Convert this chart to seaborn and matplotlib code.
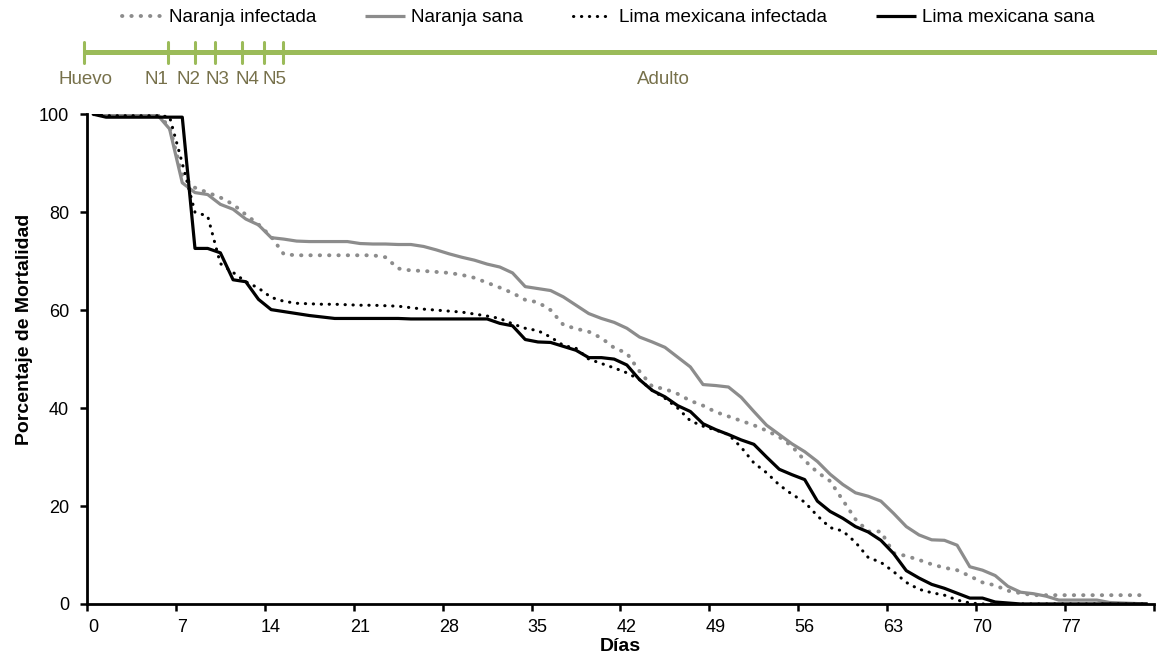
import numpy as np
import pandas as pd
import matplotlib
matplotlib.use('Agg')
import matplotlib.pyplot as plt
import matplotlib.transforms as mtransforms
import seaborn as sns

# survival curves, one value per day (day 0 .. 83)
dias = np.arange(84)

naranja_infectada = [100, 100, 100, 100, 100, 100, 97.5, 87.5, 85.0, 84.0,
                     83.0, 81.6, 79.5, 77.5, 75.0, 71.4, 71.2, 71.2, 71.2, 71.2,
                     71.2, 71.2, 71.2, 70.8, 68.5, 68.1, 68.0, 67.8, 67.6, 67.2,
                     66.6, 65.6, 64.6, 63.5, 62.1, 61.6, 60.0, 57.0, 56.2, 55.6,
                     54.3, 52.3, 51.2, 47.5, 44.4, 43.9, 42.9, 41.5, 40.5, 39.2,
                     38.3, 37.4, 36.5, 35.4, 34.1, 32.2, 29.3, 26.9, 25.1, 21.2,
                     17.3, 14.8, 14.8, 10.4, 9.8, 9.0, 8.1, 7.4, 6.9, 5.7,
                     4.4, 3.8, 2.7, 2.2, 1.8, 1.8, 1.8, 1.8, 1.8, 1.8,
                     1.8, 1.8, 1.8, 1.8]

naranja_sana = [100, 100, 100, 100, 100, 100, 97.0, 86.0, 84.0, 83.6,
                81.6, 80.6, 78.6, 77.4, 74.8, 74.5, 74.1, 74.0, 74.0, 74.0,
                74.0, 73.6, 73.5, 73.5, 73.4, 73.4, 73.0, 72.3, 71.5, 70.8,
                70.2, 69.4, 68.8, 67.6, 64.8, 64.4, 64.0, 62.7, 61.0, 59.3,
                58.3, 57.5, 56.3, 54.5, 53.5, 52.4, 50.4, 48.4, 44.8, 44.6,
                44.3, 42.2, 39.3, 36.5, 34.6, 32.7, 31.1, 29.1, 26.5, 24.4,
                22.7, 22.0, 21.0, 18.5, 15.8, 14.1, 13.1, 13.0, 12.0, 7.6,
                6.9, 5.8, 3.6, 2.4, 2.1, 1.6, 0.8, 0.8, 0.8, 0.8,
                0.3, 0.2, 0.1, 0]

lima_infectada = [100, 99.7, 99.7, 99.7, 99.7, 99.7, 99.5, 90.0, 80.0, 79.2,
                  69.5, 67.7, 65.8, 64.5, 62.6, 61.8, 61.4, 61.3, 61.2, 61.2,
                  61.1, 61.0, 61.0, 60.9, 60.8, 60.5, 60.2, 60.0, 59.8, 59.6,
                  59.2, 58.8, 58.3, 57.2, 56.3, 55.8, 54.5, 52.8, 52.2, 50.0,
                  49.1, 48.2, 47.2, 45.8, 43.6, 42.0, 40.0, 37.4, 36.3, 35.5,
                  34.6, 32.0, 28.8, 26.8, 24.3, 22.4, 20.8, 18.0, 15.6, 14.9,
                  12.6, 9.5, 8.5, 6.6, 4.4, 3.0, 2.3, 1.8, 0.8, 0.2,
                  0, 0, 0, 0, 0, 0, 0, 0, 0, 0,
                  0, 0, 0, 0]

lima_sana = [100, 99.4, 99.4, 99.4, 99.4, 99.4, 99.4, 99.4, 72.6, 72.6,
             71.7, 66.2, 65.8, 62.2, 60.1, 59.7, 59.3, 58.9, 58.6, 58.3,
             58.3, 58.3, 58.3, 58.3, 58.3, 58.2, 58.2, 58.2, 58.2, 58.2,
             58.2, 58.2, 57.3, 56.8, 54.0, 53.5, 53.4, 52.6, 51.8, 50.3,
             50.3, 50.0, 48.8, 45.8, 43.6, 42.3, 40.5, 39.3, 36.8, 35.6,
             34.6, 33.5, 32.6, 30.0, 27.5, 26.4, 25.4, 21.0, 18.9, 17.5,
             15.8, 14.7, 13.0, 10.3, 6.8, 5.3, 4.0, 3.2, 2.2, 1.2,
             1.2, 0.4, 0.2, 0, 0, 0, 0, 0, 0, 0,
             0, 0, 0, 0]

# development stages shown above the plot
etapas = ['Huevo', 'N1', 'N2', 'N3', 'N4', 'N5', 'Adulto']
etapa_marcas = [-0.2, 6.4, 8.5, 10.1, 12.2, 13.9, 15.4]
etapa_texto = [-0.1, 5.5, 8.0, 10.3, 12.6, 14.8, 45.4]

xticks = np.arange(0, 85, 7)
xticklabels = [str(t) for t in xticks[:-1]] + ['']

sns.set_style('ticks')
plt.rcParams['font.family'] = ['Liberation Sans', 'DejaVu Sans']
plt.rcParams['text.color'] = 'black'
plt.rcParams['axes.labelcolor'] = 'black'
plt.rcParams['xtick.color'] = 'black'
plt.rcParams['ytick.color'] = 'black'

fig = plt.figure(figsize=(11.57, 6.55), dpi=100)
ax = fig.add_axes([0.0752, 0.0779, 0.9222, 0.7477])

series = [
    ('Naranja infectada', naranja_infectada, '#8c8c8c', (0, (0.1, 2.3)), 2.8),
    ('Naranja sana', naranja_sana, '#8c8c8c', '-', 2.3),
    ('Lima mexicana infectada', lima_infectada, 'black', (0, (0.1, 2.5)), 2.2),
    ('Lima mexicana sana', lima_sana, 'black', '-', 2.3),
]

for name, vals, col, ls, lw in series:
    df = pd.DataFrame({'dia': dias + 0.5, 'pct': vals})
    sns.lineplot(data=df, x='dia', y='pct', ax=ax, color=col, linestyle=ls,
                 linewidth=lw, label=name, dash_capstyle='round',
                 solid_capstyle='butt')

ax.set_xlim(0, 84)
ax.set_ylim(0, 100)
ax.set_xticks(xticks)
ax.set_xticklabels(xticklabels)
ax.set_yticks(np.arange(0, 101, 20))
ax.tick_params(axis='both', labelsize=13, width=1.8, length=5,
               color='black', labelcolor='black')
ax.tick_params(axis='y', pad=8)
ax.tick_params(axis='x', pad=6)
# excel puts the day labels a little to the right of the tick
shift = mtransforms.ScaledTranslation(6 / 100, 0, fig.dpi_scale_trans)
for lab in ax.get_xticklabels():
    lab.set_transform(lab.get_transform() + shift)
for s in ['left', 'bottom']:
    ax.spines[s].set_linewidth(2.0)
    ax.spines[s].set_color('black')
sns.despine(ax=ax)
ax.set_xlabel('Días', fontsize=14, fontweight='bold', color='black')
ax.xaxis.set_label_coords(0.5, -0.07)
ax.set_ylabel('Porcentaje de Mortalidad', fontsize=14, fontweight='bold',
              color='black')
ax.yaxis.set_label_coords(-0.051, 0.56)

handles, labels = ax.get_legend_handles_labels()
ax.get_legend().remove()
fig.legend(handles, labels, loc='upper center', bbox_to_anchor=(0.526, 1.012),
           ncol=4, frameon=False, fontsize=13.6, handlelength=2.1,
           handletextpad=0.35, columnspacing=2.6, labelcolor='black')

# stage timeline
tl = fig.add_axes([0.0752, 0.86, 0.9222, 0.08], sharex=ax)
tl.axis('off')
tl.set_ylim(-1, 1)
verde = '#9bbb59'
tl.plot([etapa_marcas[0], 85], [0.5, 0.5], color=verde, linewidth=3.6,
        clip_on=False, solid_capstyle='butt')
for m in etapa_marcas:
    tl.plot([m, m], [0.1, 0.9], color=verde, linewidth=2.2, clip_on=False)
for t, x in zip(etapas, etapa_texto):
    tl.text(x, -0.55, t, ha='center', va='center', fontsize=13.5, color='#77714b')

fig.savefig('out.png', dpi=100)
